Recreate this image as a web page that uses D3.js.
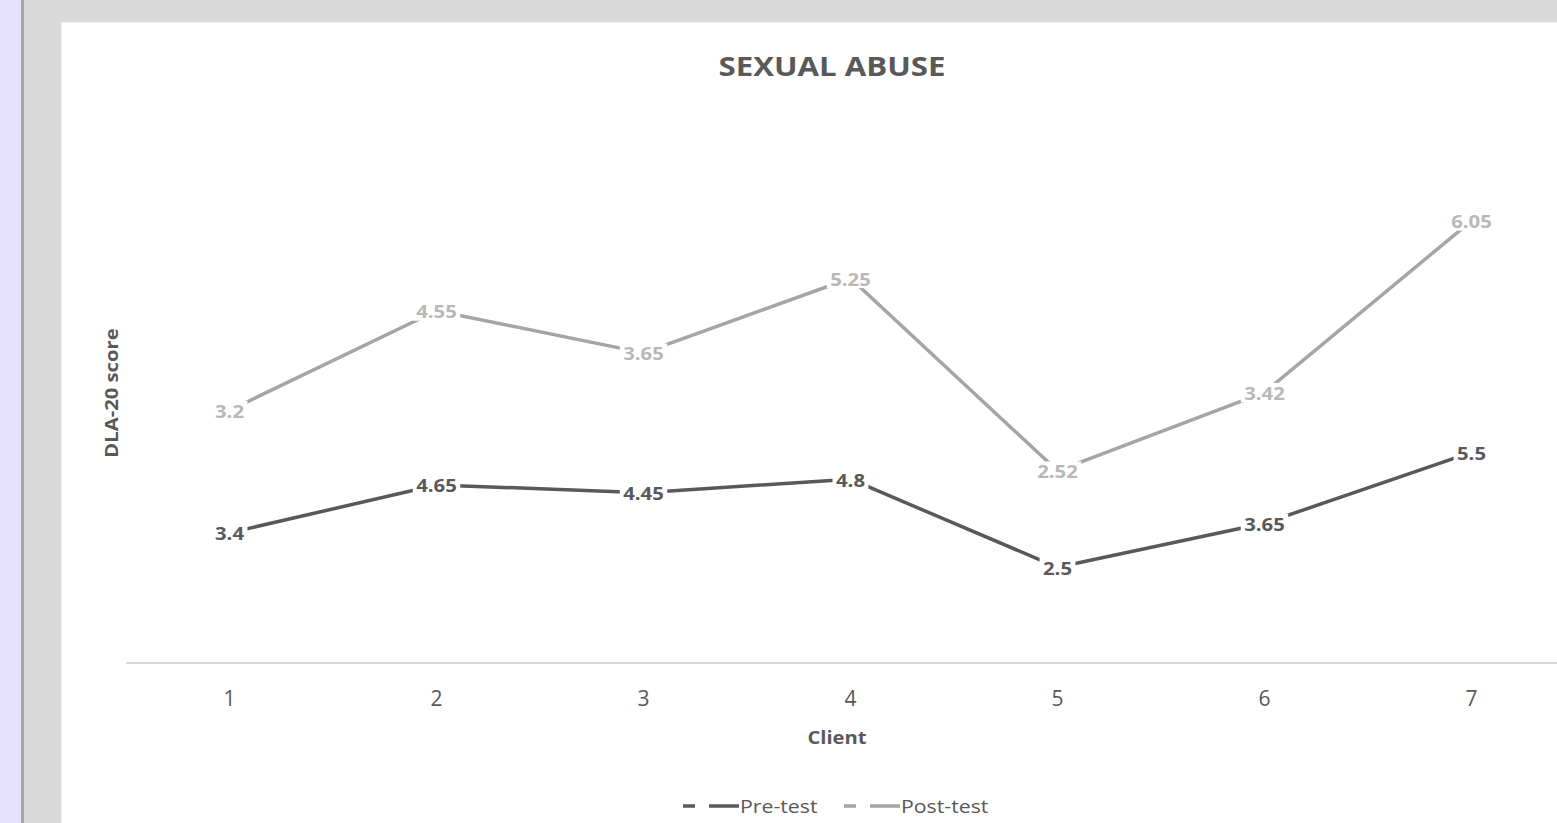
<!DOCTYPE html>
<html>
<head>
<meta charset="utf-8">
<script src="https://cdn.jsdelivr.net/npm/d3@7"></script>
<style>
  html, body { margin: 0; padding: 0; overflow: hidden; background: #fff; }
  svg { display: block; font-family: "Open Sans", sans-serif; }
</style>
</head>
<body>
<svg id="chart" width="1557" height="823"></svg>
<script>
const clients = ['1', '2', '3', '4', '5', '6', '7'];
const preTest = [3.4, 4.65, 4.45, 4.8, 2.5, 3.65, 5.5];
const postTest = [3.2, 4.55, 3.65, 5.25, 2.52, 3.42, 6.05];
const seriesNames = ['Pre-test', 'Post-test'];
const seriesColors = ['#595959', '#a5a5a5'];
const labelColors = ['#595959', '#b8b8b8'];

const svg = d3.select('#chart');
const width = +svg.attr('width');
const height = +svg.attr('height');

// frame around the chart (spreadsheet background)
svg.append('rect').attr('width', width).attr('height', height).attr('fill', '#d9d9d9');
svg.append('rect').attr('width', 21).attr('height', height).attr('fill', '#e6e1ff');
svg.append('rect').attr('x', 21).attr('width', 3).attr('height', height).attr('fill', '#a6a6a6');
svg.append('rect').attr('x', 61).attr('y', 22).attr('width', width).attr('height', height)
    .attr('fill', '#fff').attr('stroke', '#e4e4e4');

const plot = { left: 126, top: 127, bottom: 663 };

const x = d3.scaleBand()
    .domain(clients)
    .range([plot.left, plot.left + 207 * clients.length]);

const y = d3.scaleLinear()
    .domain([0, 14])
    .range([plot.bottom, plot.top]);

// stacked lines: post-test is drawn on top of pre-test
const stacked = d3.stack().keys([0, 1]).value((d, k) => d[k])(
    clients.map((c, i) => [preTest[i], postTest[i]])
);

const g = svg.append('g');

// category axis
const xAxis = g.append('g')
    .attr('transform', `translate(0,${plot.bottom})`)
    .call(d3.axisBottom(x).tickSize(0).tickPadding(28));
xAxis.select('.domain').attr('stroke', '#d9d9d9').attr('stroke-width', 2)
    .attr('d', `M${plot.left},0H${width}`);
xAxis.selectAll('text')
    .attr('fill', '#595959')
    .style('font-size', '21px')
    .style('font-family', '"Open Sans", sans-serif');

const line = d3.line()
    .x((d, i) => x(clients[i]) + x.bandwidth() / 2)
    .y(d => y(d[1]));

const rawValues = [preTest, postTest];

stacked.forEach((layer, s) => {
    g.append('path')
        .datum(layer)
        .attr('fill', 'none')
        .attr('stroke', seriesColors[s])
        .attr('stroke-width', 3.5)
        .attr('stroke-linejoin', 'round')
        .attr('d', line);
});

stacked.forEach((layer, s) => {
    const labels = g.append('g')
        .selectAll('g')
        .data(layer)
        .enter()
        .append('g')
        .attr('transform', (d, i) => `translate(${x(clients[i]) + x.bandwidth() / 2},${y(d[1]) + 1}) scale(1.13,1)`);

    labels.append('text')
        .attr('text-anchor', 'middle')
        .attr('dy', '0.35em')
        .attr('fill', labelColors[s])
        .style('font-size', '18px')
        .style('font-weight', 'bold')
        .text((d, i) => rawValues[s][i]);

    // white box behind each label so the line breaks around it
    labels.each(function() {
        const t = d3.select(this).select('text');
        const b = t.node().getBBox();
        d3.select(this).insert('rect', 'text')
            .attr('x', b.x - 3).attr('y', b.y + 3)
            .attr('width', b.width + 6).attr('height', b.height - 6)
            .attr('fill', '#fff');
    });
});

// titles
svg.append('text')
    .attr('transform', 'translate(832,67) scale(1.2,1)')
    .attr('text-anchor', 'middle').attr('dy', '0.35em')
    .attr('fill', '#595959')
    .style('font-size', '26px').style('font-weight', 'bold')
    .text('SEXUAL ABUSE');

svg.append('text')
    .attr('transform', 'translate(112,393) rotate(-90) scale(1.19,1)')
    .attr('text-anchor', 'middle').attr('dy', '0.35em')
    .attr('fill', '#595959')
    .style('font-size', '17px').style('font-weight', 'bold')
    .text('DLA-20 score');

svg.append('text')
    .attr('transform', 'translate(837,738) scale(1.12,1)')
    .attr('text-anchor', 'middle').attr('dy', '0.35em')
    .attr('fill', '#595959')
    .style('font-size', '18px').style('font-weight', 'bold')
    .text('Client');

// legend
const legendX = [683, 844];
const legend = svg.append('g')
    .selectAll('g')
    .data(seriesNames)
    .enter()
    .append('g')
    .attr('transform', (d, i) => `translate(${legendX[i]},806)`);

legend.append('line')
    .attr('x1', 0).attr('x2', 12)
    .attr('stroke', (d, i) => seriesColors[i]).attr('stroke-width', 3.5);
legend.append('line')
    .attr('x1', 26).attr('x2', 56)
    .attr('stroke', (d, i) => seriesColors[i]).attr('stroke-width', 3.5);
legend.append('text')
    .attr('transform', 'translate(57,0) scale(1.12,1)')
    .attr('dy', '0.35em')
    .attr('fill', '#595959')
    .style('font-size', '19px')
    .text(d => d);
</script>
</body>
</html>
